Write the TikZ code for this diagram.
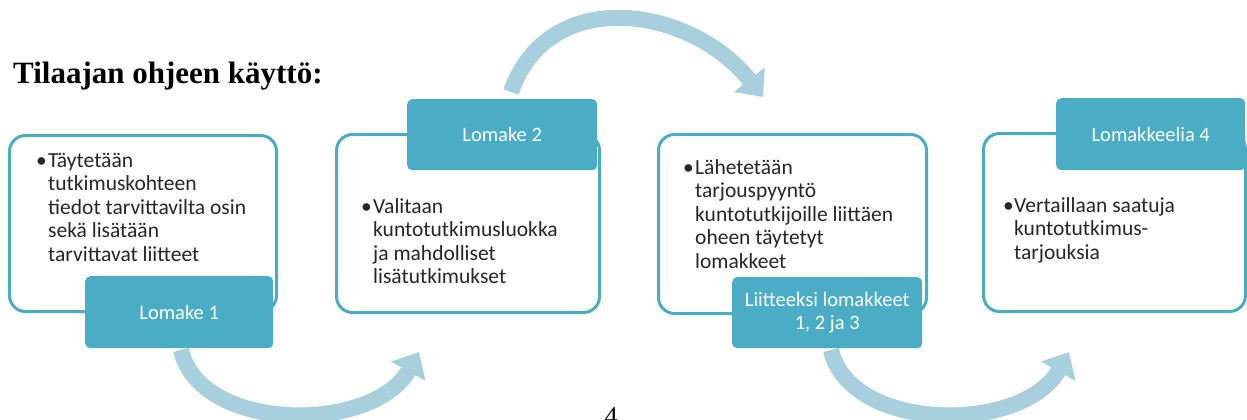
\documentclass[tikz,border=0pt]{standalone}
\usepackage{fontspec}
\setmainfont{Carlito}
\newfontfamily\titlefont{Liberation Serif}
\usetikzlibrary{arrows.meta}
\definecolor{tabblue}{HTML}{4BACC6}
\definecolor{framecol}{HTML}{4BACC6}
\definecolor{arrowcol}{HTML}{A8CFDD}
\definecolor{textcol}{HTML}{262626}
\begin{document}
\begin{tikzpicture}[x=1pt,y=-1pt,
  frame/.style={draw=framecol, line width=3pt, rounded corners=16pt, fill=white,
                anchor=north west, inner sep=0pt},
  tab/.style={fill=tabblue, rounded corners=5pt, anchor=north west, inner sep=0pt,
              text=white, align=center, font=\fontsize{20.5}{23}\selectfont},
  txt/.style={text=textcol, font=\fontsize{21.5}{23.5}\selectfont, anchor=base west, inner sep=0pt},
  flow/.style={draw=arrowcol, line width=16pt, -{Triangle[length=22pt,width=38pt]}},
]
\clip (0,0) rectangle (1247,420);
\fill[white] (0,0) rectangle (1247,420);

% heading
\node[anchor=base west, inner sep=0pt, text=black,
      font=\titlefont\bfseries\fontsize{31}{31}\selectfont] (title) at (13,84) {Tilaajan ohjeen käyttö:};

% curved flow arrows between the steps
\coordinate (a1s) at (181,350);
\coordinate (a1e) at (419,352);
\coordinate (a2s) at (511,92);
\coordinate (a2e) at (763,97);
\coordinate (a3s) at (831,350);
\coordinate (a3e) at (1069,352);
\draw[flow] (a1s) .. controls (200,433) and (373,434) .. (a1e);
\draw[flow] (a2s) .. controls (548,-15) and (690,5) .. (a2e);
\draw[flow] (a3s) .. controls (850,433) and (1023,434) .. (a3e);

% step frames
\node[frame, minimum width=267pt, minimum height=176pt] (box1) at (8,134) {};
\node[frame, minimum width=263pt, minimum height=178pt] (box2) at (335,133) {};
\node[frame, minimum width=268pt, minimum height=179pt] (box3) at (657,133) {};
\node[frame, minimum width=262pt, minimum height=178pt] (box4) at (982,132) {};

% form tabs
\node[tab, minimum width=188pt, minimum height=72pt] (tab1) at (85,276) {Lomake 1};
\node[tab, minimum width=190pt, minimum height=71pt] (tab2) at (407,99) {Lomake 2};
\node[tab, minimum width=190pt, minimum height=71pt] (tab3) at (732,277) {Liitteeksi lomakkeet\\1, 2 ja 3};
\node[tab, minimum width=189pt, minimum height=72pt] (tab4) at (1056,98) {Lomakkeelia 4};

% step texts
\node[txt] (b1) at (36,167) {•};
\foreach \l [count=\i] in {Täytetään,tutkimuskohteen,tiedot tarvittavilta osin,sekä lisätään,tarvittavat liitteet}
  \node[txt] (b1-\i) at (48,{167+23.5*(\i-1)}) {\l};

\node[txt] (b2) at (361,213) {•};
\foreach \l [count=\i] in {Valitaan,kuntotutkimusluokka,ja mahdolliset,lisätutkimukset}
  \node[txt] (b2-\i) at (373,{213+23.5*(\i-1)}) {\l};

\node[txt] (b3) at (683,174) {•};
\foreach \l [count=\i] in {Lähetetään,tarjouspyyntö,kuntotutkijoille liittäen,oheen täytetyt,lomakkeet}
  \node[txt] (b3-\i) at (695,{174+23.5*(\i-1)}) {\l};

\node[txt] (b4) at (1003,212) {•};
\foreach \l [count=\i] in {Vertaillaan saatuja,kuntotutkimus-,tarjouksia}
  \node[txt] (b4-\i) at (1014,{212+23.5*(\i-1)}) {\l};

% page number
\node[anchor=base, inner sep=0pt, font=\titlefont\fontsize{27}{27}\selectfont] (pagenum) at (611,425) {4};
\end{tikzpicture}
\end{document}
